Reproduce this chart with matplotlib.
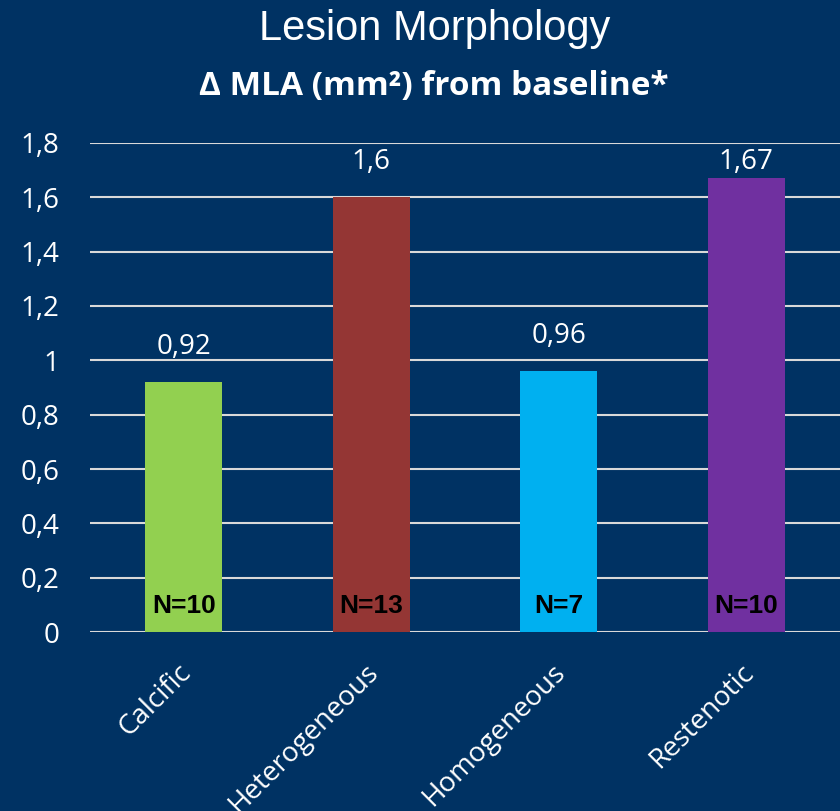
import matplotlib
matplotlib.use('Agg')
import matplotlib.pyplot as plt
from matplotlib.transforms import ScaledTranslation

categories = ['Calcific', 'Heterogeneous', 'Homogeneous', 'Restenotic']
values = [0.92, 1.60, 0.96, 1.67]
value_labels = ['0,92', '1,6', '0,96', '1,67']
n_labels = ['N=10', 'N=13', 'N=7', 'N=10']
colors = ['#92D050', '#943634', '#00B0F0', '#7030A0']
yticks = [0, 0.2, 0.4, 0.6, 0.8, 1.0, 1.2, 1.4, 1.6, 1.8]
ytick_labels = ['0', '0,2', '0,4', '0,6', '0,8', '1', '1,2', '1,4', '1,6', '1,8']

bg = '#003263'
calibri = ['Open Sans', 'DejaVu Sans']


def main():
    fig = plt.figure(figsize=(8.4, 8.11), dpi=100, facecolor=bg)
    ax = fig.add_axes([0.107, 0.2207, 0.893, 0.603])
    ax.set_facecolor(bg)

    x = range(len(categories))
    ax.bar(x, values, width=0.41, color=colors, zorder=2)

    ax.set_xlim(-0.5, len(categories) - 0.5)
    ax.set_ylim(0, 1.8)
    ax.set_yticks(yticks)
    ax.set_yticklabels(ytick_labels, family=calibri, fontsize=20,
                       color='white')
    ax.yaxis.grid(True, color='#D9D9D9', lw=1.5, zorder=1)
    ax.set_axisbelow(True)
    ax.tick_params(axis='y', length=0, pad=22)

    ax.set_xticks(list(x))
    ax.set_xticklabels(categories, family=calibri, fontsize=20,
                       color='white', rotation=45, ha='right',
                       rotation_mode='anchor')
    ax.tick_params(axis='x', length=0, pad=19)
    shift = ScaledTranslation(-5 / 72, 0, fig.dpi_scale_trans)
    for lab in ax.get_xticklabels():
        lab.set_transform(lab.get_transform() + shift)

    for s in ax.spines.values():
        s.set_visible(False)

    # value labels above bars, kept inside the plot area
    for i, (v, lab) in enumerate(zip(values, value_labels)):
        ax.text(i, min(v + 0.13, 1.73), lab, ha='center', va='center',
                color='white', family=calibri, fontsize=20)

    # sample sizes at the bar bottoms
    for i, n in enumerate(n_labels):
        ax.annotate(n, (i, 0), xytext=(0, 19), textcoords='offset points',
                    ha='center', va='center', color='black',
                    family=['Liberation Sans Narrow', 'Liberation Sans'],
                    fontweight='bold', fontsize=19)

    fig.text(0.518, 0.964, 'Lesion Morphology', ha='center', va='center',
             color='white', family='Liberation Sans', fontsize=30)
    fig.text(0.517, 0.893, 'Δ MLA (mm²) from baseline*', ha='center',
             va='center', color='white', family=calibri,
             fontweight='bold', fontsize=24)

    fig.savefig('out.png', dpi=100, facecolor=bg)


if __name__ == '__main__':
    main()
